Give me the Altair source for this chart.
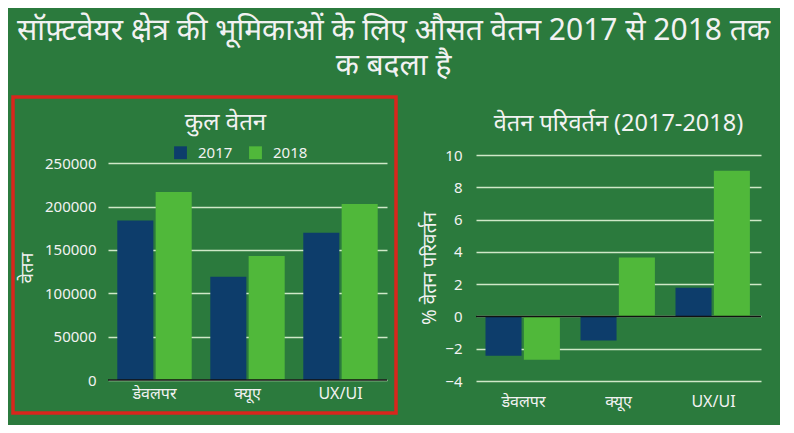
import altair as alt
import pandas as pd

roles = ["डेवलपर", "क्यूए", "UX/UI"]
years = ["2017", "2018"]
salary_2017 = [184000, 119000, 170000]
salary_2018 = [217000, 143000, 203000]
change_2017 = [-2.44, -1.49, 1.78]
change_2018 = [-2.68, 3.65, 9.02]
salary_ticks = [0, 50000, 100000, 150000, 200000, 250000]
change_ticks = [-4, -2, 0, 2, 4, 6, 8, 10]

title_lines = ["सॉफ़्टवेयर क्षेत्र की भूमिकाओं के लिए औसत वेतन 2017 से 2018 तक", "क बदला है"]
left_title = "कुल वेतन"
right_title = "वेतन परिवर्तन (2017-2018)"
left_ytitle = "वेतन"
right_ytitle = "% वेतन परिवर्तन"

rows = []
for i, r in enumerate(roles):
    rows.append({"role": r, "year": "2017", "salary": salary_2017[i], "change": change_2017[i]})
    rows.append({"role": r, "year": "2018", "salary": salary_2018[i], "change": change_2018[i]})
df = pd.DataFrame(rows)
zero = pd.DataFrame({"v": [0]})

FONT = "Noto Sans"
BG = "#2b7a3d"
BLUE = "#0d3d6b"
GREEN = "#50b83a"
GRID = "#cfe8c8"
TXT = "#f2f2f2"

color = alt.Color("year:N", scale=alt.Scale(domain=years, range=[BLUE, GREEN]),
                  legend=alt.Legend(orient="none", legendX=65, legendY=-10, direction="horizontal",
                                    title=None, symbolType="square", symbolSize=165,
                                    labelFontSize=15, labelColor=TXT, labelFont=FONT,
                                    labelOffset=10, symbolStrokeWidth=0, padding=0,
                                    columnPadding=15))


def xenc(pad):
    return alt.X("role:N", sort=roles, title=None,
                 scale=alt.Scale(paddingInner=0.2, paddingOuter=0.1),
                 axis=alt.Axis(labelAngle=0, labelFontSize=16, labelColor=TXT, labelFont=FONT,
                               ticks=False, domain=False, labelPadding=pad))


left_axis = alt.Axis(values=salary_ticks, format="d",
                     labelFontSize=15, labelColor=TXT, labelFont=FONT, labelOverlap=False,
                     titleFontSize=18, titleColor=TXT, titleFont=FONT, titleFontWeight="normal",
                     titlePadding=8, gridColor=GRID, gridWidth=1.5, domain=False, ticks=False,
                     labelPadding=12)
left_scale = alt.Scale(domain=[0, 259600], nice=False)

left_bars = alt.Chart(df).mark_bar().encode(
    x=xenc(5),
    xOffset=alt.XOffset("year:N", sort=years, scale=alt.Scale(paddingInner=0.06)),
    y=alt.Y("salary:Q", title=left_ytitle, scale=left_scale, axis=left_axis),
    color=color,
)
left_zero = alt.Chart(zero).mark_rule(color="#111111", strokeWidth=1.5).encode(
    y=alt.Y("v:Q", title=left_ytitle, scale=left_scale, axis=left_axis))
border = alt.Chart(zero).mark_rect(
    fill=None, stroke="#d8261c", strokeWidth=3.5).encode(
    x=alt.value(-95), x2=alt.value(288), y=alt.value(-58), y2=alt.value(258))

left = alt.layer(left_bars, left_zero, border).properties(
    width=279, height=225,
    title=alt.TitleParams(left_title, fontSize=24, color=TXT, font=FONT, fontWeight="normal",
                          anchor="middle", dx=-22, offset=-40))

right_axis = alt.Axis(values=change_ticks,
                      labelFontSize=15, labelColor=TXT, labelFont=FONT, labelOverlap=False,
                      titleFontSize=19, titleColor=TXT, titleFont=FONT, titleFontWeight="normal",
                      titlePadding=5, gridColor=GRID, gridWidth=1.5, domain=False, ticks=False,
                      labelPadding=14)
right_scale = alt.Scale(domain=[-4, 10], nice=False)

right_bars = alt.Chart(df).mark_bar().encode(
    x=xenc(12),
    xOffset=alt.XOffset("year:N", sort=years, scale=alt.Scale(paddingInner=0.06)),
    y=alt.Y("change:Q", title=right_ytitle, scale=right_scale, axis=right_axis),
    color=alt.Color("year:N", scale=alt.Scale(domain=years, range=[BLUE, GREEN]), legend=None),
)
right_zero = alt.Chart(zero).mark_rule(color="#111111", strokeWidth=1.5).encode(
    y=alt.Y("v:Q", title=right_ytitle, scale=right_scale, axis=right_axis))
spacer = alt.Chart(zero).mark_rect(opacity=0).encode(
    x=alt.value(0), x2=alt.value(285), y=alt.value(-58), y2=alt.value(258))
right = alt.layer(right_bars, right_zero, spacer).properties(
    width=285, height=226,
    title=alt.TitleParams(right_title, fontSize=23.5, color=TXT, font=FONT, fontWeight="normal",
                          anchor="middle", offset=-38))

chart = alt.hconcat(left, right, spacing=22).resolve_scale(color="independent").properties(
    background=BG,
    padding={"left": 3, "top": 8, "right": 10, "bottom": 10},
    title=alt.TitleParams(title_lines, fontSize=30, color=TXT, font=FONT, fontWeight="normal",
                          anchor="middle", lineHeight=35, offset=14, dx=7),
).configure_view(stroke=None).configure_axis(labelFont=FONT, titleFont=FONT)

chart.save("out.html", embed_options={"renderer": "svg", "actions": False})
